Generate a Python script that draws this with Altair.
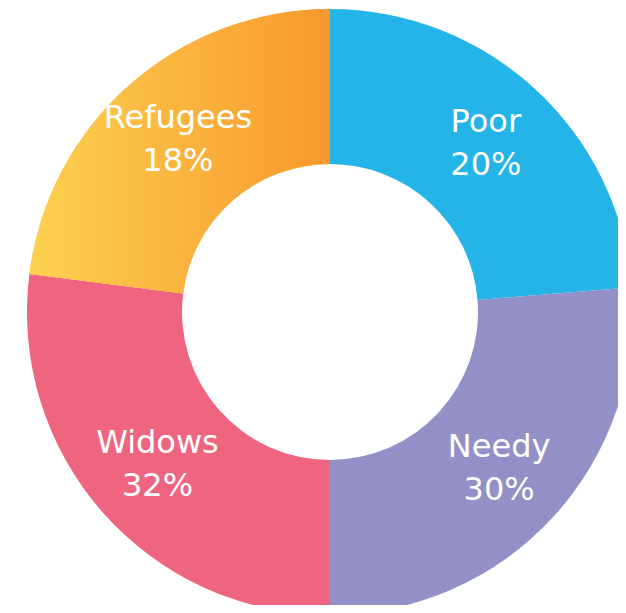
import altair as alt
import pandas as pd

categories = ["Poor", "Needy", "Widows", "Refugees"]
# arc sizes as drawn in the picture (share of the full circle)
values = [23.7, 26.3, 27.0, 23.0]
pct_labels = ["20%", "30%", "32%", "18%"]
colors = ["#24B4E8", "#9290C6", "#EF6580", "#FAB43F"]
order = [1, 2, 3, 4]

df = pd.DataFrame({
    "cat": categories,
    "value": values,
    "pct": pct_labels,
    "order": order,
})

cx, cy = 322, 304
R_OUT, R_IN, R_LBL = 303, 148, 230

theta = alt.Theta("value:Q", stack=True)
base = alt.Chart(df).encode(
    theta=theta,
    order=alt.Order("order:Q"),
    x=alt.value(cx),
    y=alt.value(cy),
)

arcs = base.mark_arc(radius=R_OUT, radius2=R_IN, clip=True).encode(
    color=alt.Color("cat:N", scale=alt.Scale(domain=categories, range=colors), legend=None)
)

grad = alt.Gradient(
    gradient="linear",
    stops=[alt.GradientStop(color="#FDD150", offset=0),
           alt.GradientStop(color="#F7982D", offset=1)],
    x1=0, x2=1, y1=0, y2=0,
)
grad_arc = base.mark_arc(radius=R_OUT, radius2=R_IN, fill=grad, clip=True).encode(
    opacity=alt.condition(alt.datum.cat == "Refugees", alt.value(1), alt.value(0))
)

txt_kw = dict(radius=R_LBL, font="DejaVu Sans", fontSize=32, color="white",
              align="center", baseline="middle")
t1 = base.mark_text(dy=-21, **txt_kw).encode(text="cat:N")
t2 = base.mark_text(dy=22, **txt_kw).encode(text="pct:N")

chart = alt.layer(arcs, grad_arc, t1, t2).properties(
    width=610, height=597, padding=0
).configure_view(stroke=None)

chart.save("out.html", embed_options={"renderer": "svg", "actions": False})
